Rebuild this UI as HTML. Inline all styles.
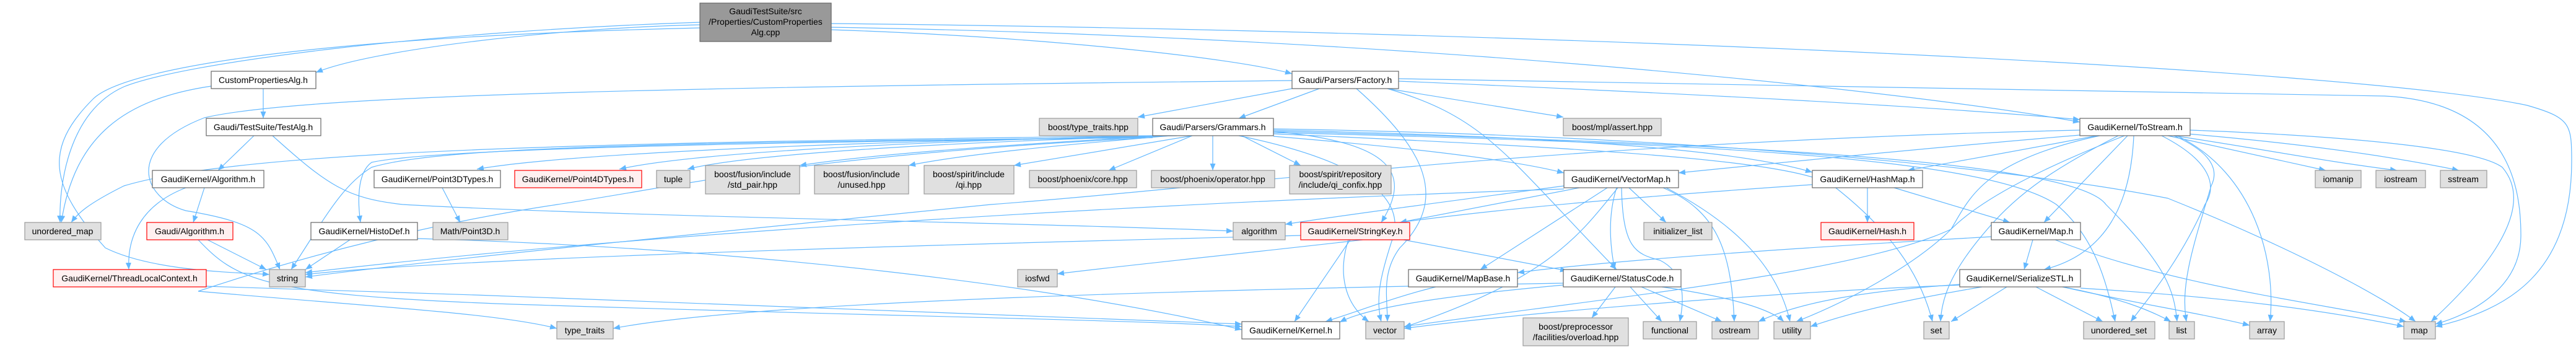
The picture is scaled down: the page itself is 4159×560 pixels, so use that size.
<!DOCTYPE html>
<html><head><meta charset="utf-8"><style>
html,body{margin:0;padding:0;background:#fff;}
svg{display:block;}
text{font-family:"Liberation Sans",sans-serif;font-size:14px;fill:#000;text-anchor:middle;}
.e{fill:none;stroke:#63b8ff;stroke-width:1.2;marker-end:url(#a);}
.w{fill:#fff;stroke:#666;stroke-width:1.2;}
.g{fill:#e0e0e0;stroke:#999;stroke-width:1.2;}
.r{fill:#fff0f0;stroke:#f00;stroke-width:1.2;}
.t{fill:#999;stroke:#666;stroke-width:1.2;}
</style></head><body>
<svg width="4159" height="560" viewBox="0 0 4159 560" xmlns="http://www.w3.org/2000/svg">
<defs><marker id="a" markerUnits="userSpaceOnUse" markerWidth="12" markerHeight="10" refX="11" refY="4.5" orient="auto"><path d="M0,0 L11,4.5 L0,9 z" fill="#63b8ff"/></marker></defs>
<g>
<!-- N0 -->
<path class="e" d="M1130 40 C900 45 600 80 510 117"/>
<path class="e" d="M1130 36 C700 50 300 100 200 140 C110 180 95 300 97 359"/>
<path class="e" d="M1130 45 C500 60 200 110 150 160 C70 240 80 300 170 400 C250 440 400 440 435 443"/>
<path class="e" d="M1342 48 C1700 60 2000 95 2086 119"/>
<path class="e" d="M1342 44 C2300 60 3100 150 3358 197"/>
<path class="e" d="M1342 38 C2500 50 3800 110 4080 170 C4150 190 4152 200 4152 260 C4152 440 4050 500 3932 527"/>
<!-- CPA -->
<path class="e" d="M425 143 L425 191"/>
<path class="e" d="M341 139 C200 160 120 220 99 359"/>
<!-- Fac -->
<path class="e" d="M2086 130 C1200 140 500 150 330 190 C200 240 230 320 300 340 C420 360 430 380 452 435"/>
<path class="e" d="M2130 143 L2000 191"/>
<path class="e" d="M2086 143 L1837 189"/>
<path class="e" d="M2240 143 L2524 189"/>
<path class="e" d="M2190 143 C2300 240 2340 320 2260 400 C2230 440 2240 480 2240 519"/>
<path class="e" d="M2240 143 C2400 190 2430 250 2610 435"/>
<path class="e" d="M2258 131 C2700 150 3100 170 3358 193"/>
<path class="e" d="M2258 127 C3000 140 3500 145 3850 155 C4050 165 4070 300 4070 380 C4070 470 3980 510 3932 523"/>
<!-- TestAlg -->
<path class="e" d="M410 219 L352 275"/>
<path class="e" d="M440 219 C530 300 560 320 650 330 C1000 350 1700 360 1991 373"/>
<!-- Alg -->
<path class="e" d="M330 303 L312 359"/>
<path class="e" d="M300 303 C230 330 205 380 208 435"/>
<!-- GAlg -->
<path class="e" d="M335 387 L430 435"/>
<path class="e" d="M320 387 C380 450 420 475 800 490 C1400 510 1800 515 2005 527"/>
<!-- TLC -->
<path class="e" d="M333 462 C900 480 1500 500 2005 523"/>
<!-- Histo -->
<path class="e" d="M565 387 L493 435"/>
<path class="e" d="M674 385 C1200 400 1700 460 2005 532"/>
<!-- P3T -->
<path class="e" d="M714 303 L743 359"/>
<!-- Gram -->
<path class="e" d="M1861 219 C1000 230 400 240 200 300 C140 330 125 345 115 359"/>
<path class="e" d="M1861 220 C1000 225 400 230 250 262 C160 290 110 330 101 359" style="display:none"/>
<path class="e" d="M1861 222 C1000 230 700 240 600 270 C550 300 520 360 470 435"/>
<path class="e" d="M1861 222 C1200 230 700 240 600 262 C575 280 578 330 582 359"/>
<path class="e" d="M1861 220 C1300 230 900 250 770 273"/>
<path class="e" d="M1861 219 C1400 230 1100 250 1000 273"/>
<path class="e" d="M1900 219 C1500 230 1200 250 1110 273"/>
<path class="e" d="M1880 219 C1600 235 1400 250 1291 267"/>
<path class="e" d="M1890 219 C1700 235 1550 250 1467 267"/>
<path class="e" d="M1925 219 L1637 267"/>
<path class="e" d="M1925 219 L1790 275"/>
<path class="e" d="M1958 219 L1958 275"/>
<path class="e" d="M2005 219 L2100 267"/>
<path class="e" d="M2056 220 C2300 240 2450 260 2525 279"/>
<path class="e" d="M2056 212 C2250 230 2280 280 2230 359"/>
<path class="e" d="M2056 210 C2500 220 2800 240 2926 278"/>
<path class="e" d="M2056 208 C2800 220 3300 280 3500 320 C3700 400 3850 480 3900 519"/>
<path class="e" d="M2056 214 C2700 230 3200 250 3320 330 C3380 380 3400 450 3415 519"/>
<path class="e" d="M2056 212 C2800 230 3350 260 3400 330 C3500 430 3510 470 3515 519"/>
<path class="e" d="M2000 219 C2150 250 2270 300 2250 380 C2230 440 2220 480 2230 519"/>
<path class="e" d="M1861 222 C1300 250 1100 300 900 330 C700 360 500 410 320 470 C600 495 800 505 899 530"/>
<path class="e" d="M2056 216 C2600 240 2900 260 2960 300 C3050 370 3100 440 3120 519"/>
<!-- ToS -->
<path class="e" d="M3358 218 C3100 240 2900 260 2710 279"/>
<path class="e" d="M3385 219 C3250 245 3150 262 3080 275"/>
<path class="e" d="M3435 219 L3300 359"/>
<path class="e" d="M3445 219 C3440 330 3400 410 3300 435"/>
<path class="e" d="M3358 210 C2500 230 2000 300 1600 330 C1100 380 700 420 493 447"/>
<path class="e" d="M3500 219 L3755 275"/>
<path class="e" d="M3510 219 C3650 240 3750 260 3870 275"/>
<path class="e" d="M3520 215 C3700 230 3850 250 3970 275"/>
<path class="e" d="M3536 210 C3800 220 4000 240 4040 270 C4100 340 4000 450 3925 519"/>
<path class="e" d="M3510 219 C3580 250 3580 280 3570 300 C3540 400 3520 460 3530 519"/>
<path class="e" d="M3515 219 C3640 280 3675 420 3665 519"/>
<path class="e" d="M3420 219 C3300 280 3250 320 3200 380 C3150 440 3135 480 3133 519"/>
<path class="e" d="M3490 219 C3570 260 3580 300 3560 330 C3520 420 3470 480 3440 519"/>
<path class="e" d="M3430 219 C3300 270 3200 320 3150 370 C3000 440 2600 480 2267 527"/>
<path class="e" d="M3390 219 C3200 260 3180 320 3150 370 C3100 420 3000 480 2900 519"/>
<path class="e" d="M3358 214 C2400 230 1000 240 600 265 C300 280 200 300 170 359" style="display:none"/>
<!-- VM -->
<path class="e" d="M2525 300 C2300 330 2150 350 2075 362"/>
<path class="e" d="M2550 303 L2260 359"/>
<path class="e" d="M2595 303 L2390 435"/>
<path class="e" d="M2610 303 C2595 350 2600 400 2607 435"/>
<path class="e" d="M2612 303 C2550 380 2500 450 2267 528"/>
<path class="e" d="M2618 303 C2620 400 2640 410 2680 420 C2720 440 2720 480 2712 519"/>
<path class="e" d="M2685 303 C2770 340 2795 400 2800 519"/>
<path class="e" d="M2690 303 C2800 360 2870 430 2890 519"/>
<path class="e" d="M2630 303 L2690 359"/>
<path class="e" d="M2525 305 C1800 330 1000 380 493 440"/>
<!-- HM -->
<path class="e" d="M3015 303 L3015 359"/>
<path class="e" d="M3058 303 L3245 359"/>
<path class="e" d="M2926 298 C2600 320 2400 340 2260 359"/>
<!-- Map -->
<path class="e" d="M3282 387 L3268 435"/>
<path class="e" d="M3215 382 C2900 400 2600 420 2450 440"/>
<path class="e" d="M3318 387 C3500 460 3750 490 3885 519"/>
<!-- SK -->
<path class="e" d="M2100 380 C1300 400 700 420 493 443"/>
<path class="e" d="M2200 387 C2000 410 1800 430 1707 442"/>
<path class="e" d="M2180 387 L2090 519"/>
<path class="e" d="M2177 387 C2160 440 2170 490 2210 519"/>
<path class="e" d="M2266 387 L2530 437"/>
<!-- MB -->
<path class="e" d="M2318 463 C2250 480 2200 500 2140 519"/>
<!-- SC -->
<path class="e" d="M2524 460 C2300 480 2200 500 2163 520"/>
<path class="e" d="M2608 463 L2570 513"/>
<path class="e" d="M2632 463 L2683 519"/>
<path class="e" d="M2650 463 L2780 519"/>
<path class="e" d="M2683 463 C2800 480 2860 500 2880 519"/>
<path class="e" d="M2524 457 C1800 470 1200 490 990 530"/>
<!-- SSTL -->
<path class="e" d="M3164 459 C3000 470 2900 490 2839 519"/>
<path class="e" d="M3200 463 C3100 480 3000 500 2923 527"/>
<path class="e" d="M3240 463 L3150 519"/>
<path class="e" d="M3287 463 L3395 519"/>
<path class="e" d="M3330 463 C3420 480 3470 500 3505 519"/>
<path class="e" d="M3330 463 C3450 490 3550 505 3632 525"/>
<path class="e" d="M3359 465 C3600 480 3750 500 3881 527"/>
<path class="e" d="M3164 460 C2900 470 2500 500 2267 530"/>
</g>
<!-- nodes -->
<rect class="t" x="1130" y="5" width="212" height="62"/><text x="1236" y="23">GaudiTestSuite/src</text><text x="1236" y="40">/Properties/CustomProperties</text><text x="1236" y="57">Alg.cpp</text>
<rect class="w" x="341" y="115" width="169" height="28"/><text x="425" y="134">CustomPropertiesAlg.h</text>
<rect class="w" x="2086" y="115" width="172" height="28"/><text x="2172" y="134">Gaudi/Parsers/Factory.h</text>
<rect class="w" x="333" y="191" width="185" height="28"/><text x="425" y="210">Gaudi/TestSuite/TestAlg.h</text>
<rect class="g" x="1678" y="191" width="159" height="28"/><text x="1757" y="210">boost/type_traits.hpp</text>
<rect class="w" x="1861" y="191" width="195" height="28"/><text x="1958" y="210">Gaudi/Parsers/Grammars.h</text>
<rect class="g" x="2524" y="191" width="158" height="28"/><text x="2603" y="210">boost/mpl/assert.hpp</text>
<rect class="w" x="3358" y="191" width="178" height="28"/><text x="3447" y="210">GaudiKernel/ToStream.h</text>
<rect class="w" x="246" y="275" width="180" height="28"/><text x="336" y="294">GaudiKernel/Algorithm.h</text>
<rect class="w" x="604" y="275" width="204" height="28"/><text x="706" y="294">GaudiKernel/Point3DTypes.h</text>
<rect class="r" x="831" y="275" width="205" height="28"/><text x="933" y="294">GaudiKernel/Point4DTypes.h</text>
<rect class="g" x="1060" y="275" width="54" height="28"/><text x="1087" y="294">tuple</text>
<rect class="g" x="1139" y="267" width="152" height="46"/><text x="1215" y="286">boost/fusion/include</text><text x="1215" y="303">/std_pair.hpp</text>
<rect class="g" x="1315" y="267" width="152" height="46"/><text x="1391" y="286">boost/fusion/include</text><text x="1391" y="303">/unused.hpp</text>
<rect class="g" x="1492" y="267" width="145" height="46"/><text x="1564" y="286">boost/spirit/include</text><text x="1564" y="303">/qi.hpp</text>
<rect class="g" x="1662" y="275" width="173" height="28"/><text x="1748" y="294">boost/phoenix/core.hpp</text>
<rect class="g" x="1859" y="275" width="199" height="28"/><text x="1958" y="294">boost/phoenix/operator.hpp</text>
<rect class="g" x="2082" y="267" width="164" height="46"/><text x="2164" y="286">boost/spirit/repository</text><text x="2164" y="303">/include/qi_confix.hpp</text>
<rect class="w" x="2525" y="275" width="185" height="28"/><text x="2617" y="294">GaudiKernel/VectorMap.h</text>
<rect class="w" x="2926" y="275" width="178" height="28"/><text x="3015" y="294">GaudiKernel/HashMap.h</text>
<rect class="g" x="3738" y="275" width="74" height="28"/><text x="3775" y="294">iomanip</text>
<rect class="g" x="3836" y="275" width="80" height="28"/><text x="3876" y="294">iostream</text>
<rect class="g" x="3940" y="275" width="75" height="28"/><text x="3977" y="294">sstream</text>
<rect class="g" x="40" y="359" width="123" height="28"/><text x="101" y="378">unordered_map</text>
<rect class="r" x="237" y="359" width="139" height="28"/><text x="306" y="378">Gaudi/Algorithm.h</text>
<rect class="w" x="502" y="359" width="172" height="28"/><text x="588" y="378">GaudiKernel/HistoDef.h</text>
<rect class="g" x="699" y="359" width="121" height="28"/><text x="759" y="378">Math/Point3D.h</text>
<rect class="g" x="1991" y="359" width="84" height="28"/><text x="2033" y="378">algorithm</text>
<rect class="r" x="2100" y="359" width="176" height="28"/><text x="2188" y="378">GaudiKernel/StringKey.h</text>
<rect class="g" x="2654" y="359" width="110" height="28"/><text x="2709" y="378">initializer_list</text>
<rect class="r" x="2940" y="359" width="150" height="28"/><text x="3015" y="378">GaudiKernel/Hash.h</text>
<rect class="w" x="3215" y="359" width="144" height="28"/><text x="3287" y="378">GaudiKernel/Map.h</text>
<rect class="r" x="86" y="435" width="247" height="28"/><text x="209" y="454">GaudiKernel/ThreadLocalContext.h</text>
<rect class="g" x="435" y="435" width="58" height="28"/><text x="464" y="454">string</text>
<rect class="g" x="1643" y="435" width="64" height="28"/><text x="1675" y="454">iosfwd</text>
<rect class="w" x="2274" y="435" width="176" height="28"/><text x="2362" y="454">GaudiKernel/MapBase.h</text>
<rect class="w" x="2524" y="435" width="190" height="28"/><text x="2619" y="454">GaudiKernel/StatusCode.h</text>
<rect class="w" x="3164" y="435" width="195" height="28"/><text x="3261" y="454">GaudiKernel/SerializeSTL.h</text>
<rect class="g" x="899" y="519" width="91" height="28"/><text x="944" y="538">type_traits</text>
<rect class="w" x="2005" y="519" width="158" height="28"/><text x="2084" y="538">GaudiKernel/Kernel.h</text>
<rect class="g" x="2205" y="519" width="62" height="28"/><text x="2236" y="538">vector</text>
<rect class="g" x="2459" y="513" width="170" height="45"/><text x="2544" y="532">boost/preprocessor</text><text x="2544" y="549">/facilities/overload.hpp</text>
<rect class="g" x="2653" y="519" width="86" height="28"/><text x="2696" y="538">functional</text>
<rect class="g" x="2764" y="519" width="75" height="28"/><text x="2801" y="538">ostream</text>
<rect class="g" x="2864" y="519" width="59" height="28"/><text x="2893" y="538">utility</text>
<rect class="g" x="3106" y="519" width="41" height="28"/><text x="3126" y="538">set</text>
<rect class="g" x="3364" y="519" width="115" height="28"/><text x="3421" y="538">unordered_set</text>
<rect class="g" x="3502" y="519" width="41" height="28"/><text x="3522" y="538">list</text>
<rect class="g" x="3632" y="519" width="56" height="28"/><text x="3660" y="538">array</text>
<rect class="g" x="3881" y="519" width="51" height="28"/><text x="3906" y="538">map</text>
</svg>
</body></html>
